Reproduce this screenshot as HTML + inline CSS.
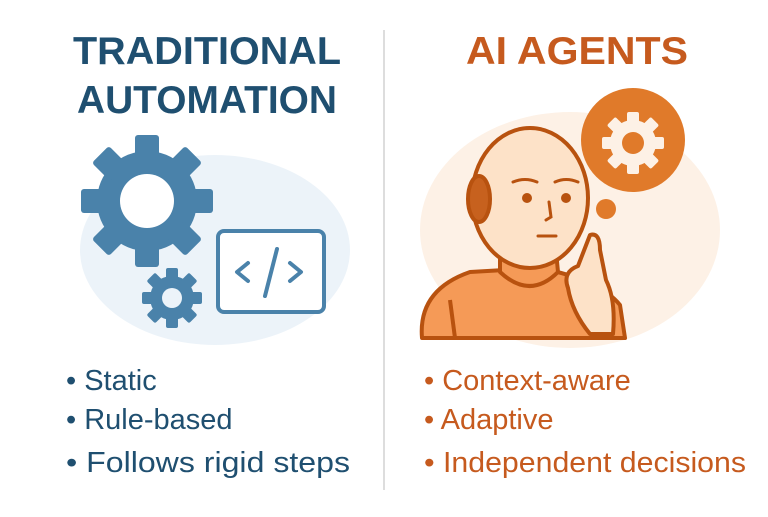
<!DOCTYPE html><html><head><style>
body{margin:0;background:#fff;width:768px;height:512px;overflow:hidden;font-family:"Liberation Sans",sans-serif}
</style></head><body>
<svg width="768" height="512" viewBox="0 0 768 512" xmlns="http://www.w3.org/2000/svg">
<rect width="768" height="512" fill="#fff"/>
<line x1="384" y1="30" x2="384" y2="490" stroke="#ddd" stroke-width="2"/>
<ellipse cx="215" cy="250" rx="135" ry="95" fill="#ecf3f9"/>
<ellipse cx="570" cy="230" rx="150" ry="118" fill="#fdf1e6"/>
<text x="207" y="64" text-anchor="middle" font-size="39" font-weight="bold" fill="#1f4f70" textLength="268" lengthAdjust="spacingAndGlyphs">TRADITIONAL</text>
<text x="207" y="113" text-anchor="middle" font-size="39" font-weight="bold" fill="#1f4f70" textLength="260" lengthAdjust="spacingAndGlyphs">AUTOMATION</text>
<text x="577" y="64" text-anchor="middle" font-size="39" font-weight="bold" fill="#c65a1e" textLength="222" lengthAdjust="spacingAndGlyphs">AI AGENTS</text>
<g transform="translate(147,201)" fill="#4a82aa">
<circle r="50"/>
<g id="t"><rect x="-12" y="-66" width="24" height="26" rx="3"/></g>
<use href="#t" transform="rotate(45)"/><use href="#t" transform="rotate(90)"/><use href="#t" transform="rotate(135)"/>
<use href="#t" transform="rotate(180)"/><use href="#t" transform="rotate(225)"/><use href="#t" transform="rotate(270)"/><use href="#t" transform="rotate(315)"/>
<circle r="27" fill="#fff"/>
</g>
<g transform="translate(172,298)" fill="#4a82aa">
<circle r="22"/>
<g id="s"><rect x="-6" y="-30" width="12" height="12" rx="2"/></g>
<use href="#s" transform="rotate(45)"/><use href="#s" transform="rotate(90)"/><use href="#s" transform="rotate(135)"/>
<use href="#s" transform="rotate(180)"/><use href="#s" transform="rotate(225)"/><use href="#s" transform="rotate(270)"/><use href="#s" transform="rotate(315)"/>
<circle r="10" fill="#ecf3f9"/>
</g>
<rect x="218" y="231" width="106" height="81" rx="6" fill="#fff" stroke="#4a82aa" stroke-width="4"/>
<g stroke="#4a82aa" stroke-width="4" fill="none" stroke-linecap="round" stroke-linejoin="round">
<polyline points="248,263 237,272 248,281"/><line x1="277" y1="249" x2="265" y2="296"/><polyline points="290,263 301,272 290,281"/>
</g>
<g stroke="#b8520f" stroke-width="4" stroke-linejoin="round">
<path d="M422,338 Q418,290 470,272 L540,268 Q600,280 620,305 L625,338 Z" fill="#f59a57"/>
<path d="M500,240 L500,272 Q530,300 558,272 L555,240 Z" fill="#f59a57"/>
<ellipse cx="530" cy="198" rx="58" ry="70" fill="#fde2c8"/>
<ellipse cx="479" cy="199" rx="11" ry="23" fill="#c7611e"/>
<path d="M455,338 L450,300" fill="none"/>
<path d="M590,334 Q572,312 568,288 Q562,272 578,266 L590,235 Q600,232 600,250 L606,280 Q616,300 613,334 Z" fill="#fde2c8"/>
</g>
<g fill="#b8520f"><circle cx="527" cy="198" r="5"/><circle cx="566" cy="198" r="5"/></g>
<g stroke="#b8520f" stroke-width="3" fill="none" stroke-linecap="round">
<path d="M513,182 Q525,177 537,182"/><path d="M555,182 Q566,177 578,182"/><path d="M549,202 L551,217 L546,220"/><line x1="538" y1="236" x2="556" y2="236"/>
</g>
<circle cx="633" cy="140" r="52" fill="#e07a2a"/>
<circle cx="606" cy="209" r="10" fill="#e07a2a"/>
<g transform="translate(633,143)" fill="#fdf1e6">
<circle r="23"/>
<g id="o"><rect x="-6" y="-31" width="12" height="12" rx="2"/></g>
<use href="#o" transform="rotate(45)"/><use href="#o" transform="rotate(90)"/><use href="#o" transform="rotate(135)"/>
<use href="#o" transform="rotate(180)"/><use href="#o" transform="rotate(225)"/><use href="#o" transform="rotate(270)"/><use href="#o" transform="rotate(315)"/>
<circle r="11" fill="#e07a2a"/>
</g>
<g font-size="29" fill="#1f4f70">
<text x="66" y="390">• Static</text><text x="66" y="429">• Rule-based</text><text x="66" y="472" textLength="284" lengthAdjust="spacingAndGlyphs">• Follows rigid steps</text>
</g>
<g font-size="29" fill="#c65a1e">
<text x="424" y="390">• Context-aware</text><text x="424" y="429">• Adaptive</text><text x="424" y="472" textLength="322" lengthAdjust="spacingAndGlyphs">• Independent decisions</text>
</g>
</svg>
</body></html>
